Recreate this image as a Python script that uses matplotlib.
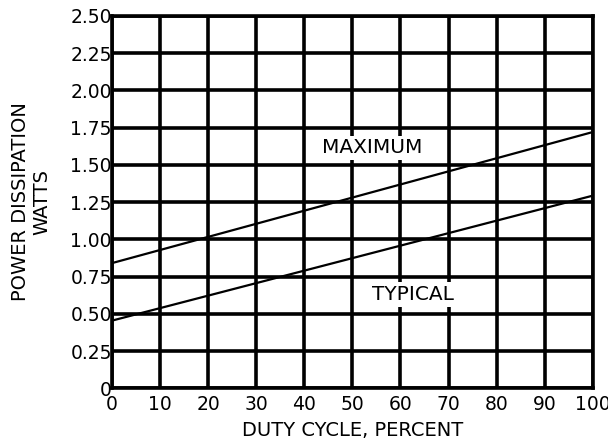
import matplotlib.pyplot as plt
import numpy as np

plt.rcParams['font.family'] = ['DejaVu Sans']

duty = [0, 100]
maximum = [0.84, 1.72]
typical = [0.454, 1.293]

x_ticks = list(range(0, 101, 10))
y_ticks = [0, 0.25, 0.50, 0.75, 1.00, 1.25, 1.50, 1.75, 2.00, 2.25, 2.50]
y_labels = ['0', '0.25', '0.50', '0.75', '1.00', '1.25', '1.50', '1.75', '2.00', '2.25', '2.50']

fig = plt.figure(figsize=(6.08, 4.43), dpi=100)
ax = fig.add_axes([0.184, 0.1235, 0.791, 0.8408])

ax.plot(duty, maximum, color='black', lw=1.6, zorder=3)
ax.plot(duty, typical, color='black', lw=1.6, zorder=3)

ax.set_xlim(0, 100)
ax.set_ylim(0, 2.5)
ax.set_xticks(x_ticks)
ax.set_yticks(y_ticks)
ax.set_yticklabels(y_labels)
ax.tick_params(length=0, labelsize=13.5)
ax.tick_params(axis='y', pad=0)
ax.tick_params(axis='x', pad=5)
ax.grid(True, color='black', lw=2.6)
ax.set_axisbelow(True)
for s in ax.spines.values():
    s.set_linewidth(2.6)

ax.text(54.1, 1.613, 'MAXIMUM', ha='center', va='center', fontsize=14.5, zorder=4,
        bbox=dict(facecolor='white', edgecolor='none', pad=2))
ax.text(62.6, 0.631, 'TYPICAL', ha='center', va='center', fontsize=14.5, zorder=4,
        bbox=dict(facecolor='white', edgecolor='none', pad=2))

ax.set_xlabel('DUTY CYCLE, PERCENT', fontsize=14, labelpad=5)
ax.set_ylabel('POWER DISSIPATION\nWATTS', fontsize=14, labelpad=14, linespacing=1.1)

fig.savefig('out.png', dpi=100)
